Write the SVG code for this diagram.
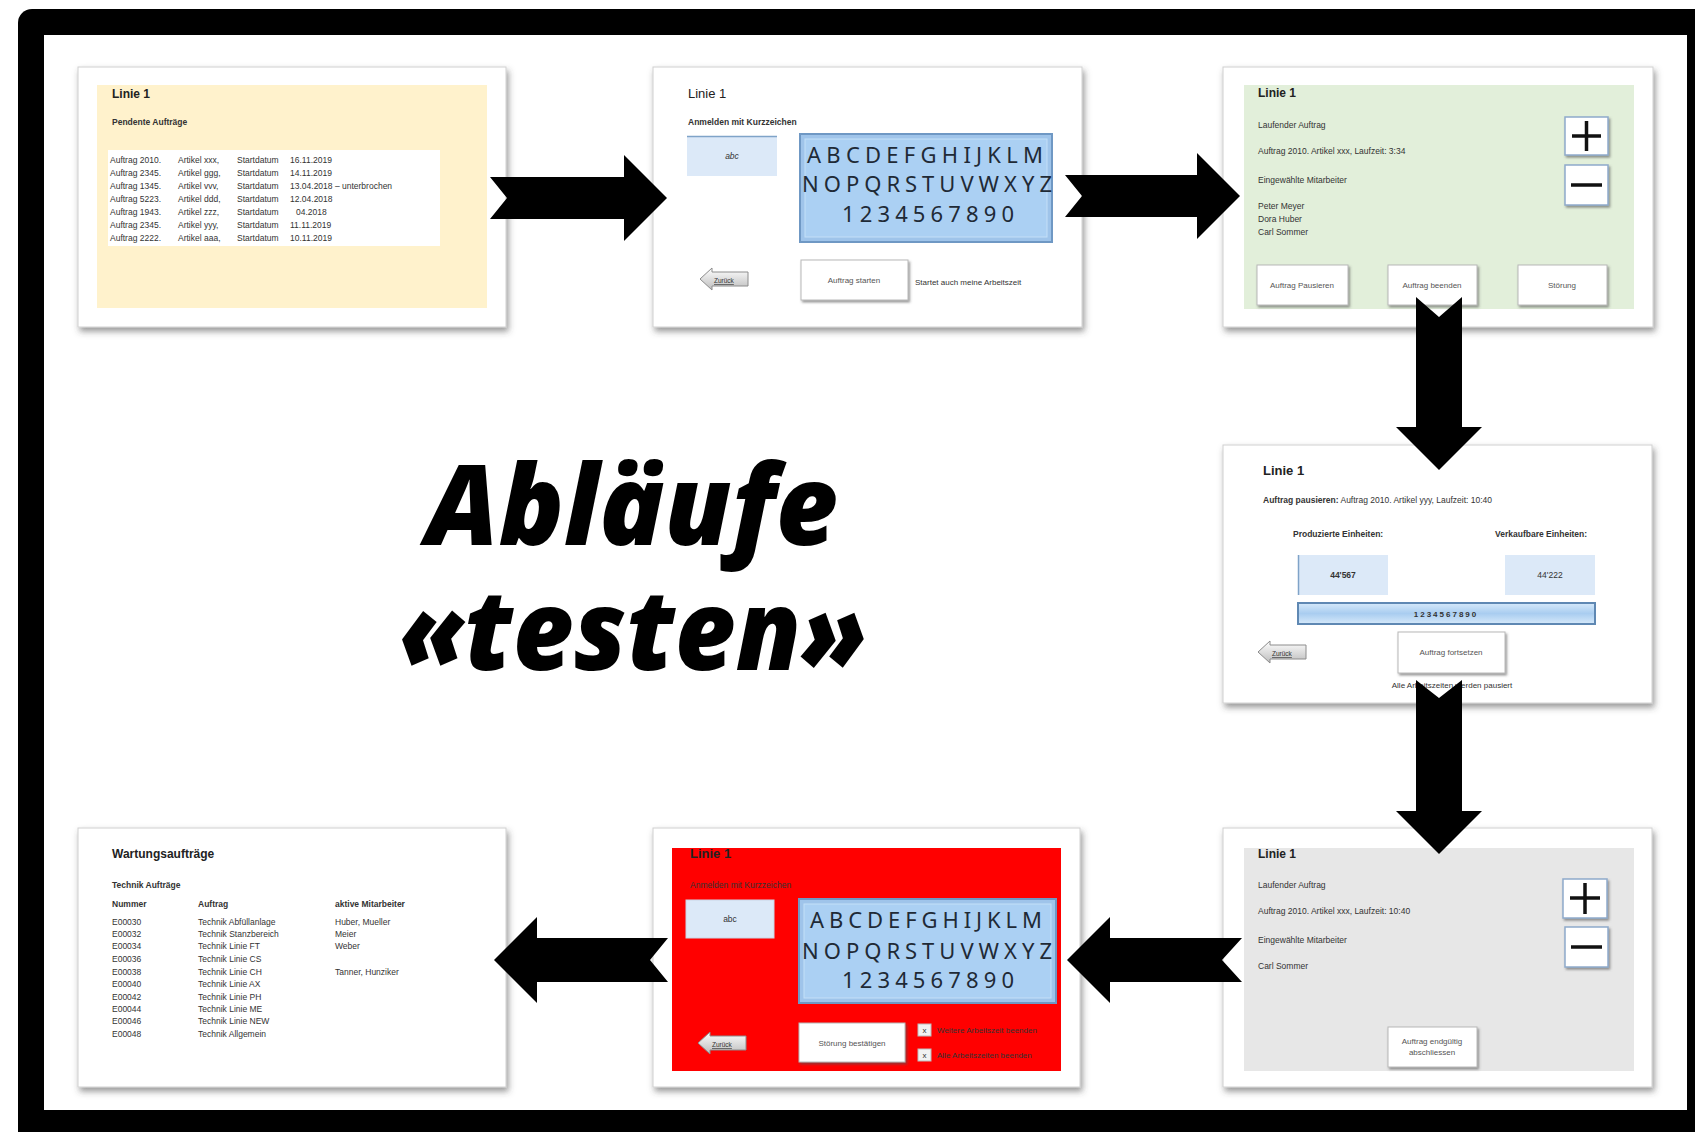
<svg xmlns="http://www.w3.org/2000/svg" width="1695" height="1132" viewBox="0 0 1695 1132">
<defs>
<filter id="sh" x="-5%" y="-5%" width="112%" height="118%"><feDropShadow dx="2" dy="4" stdDeviation="3" flood-color="#444" flood-opacity="0.55"/></filter>
<filter id="bs" x="-10%" y="-10%" width="125%" height="130%"><feDropShadow dx="1.5" dy="2" stdDeviation="1" flood-color="#555" flood-opacity="0.6"/></filter>
<linearGradient id="zg" x1="0" y1="0" x2="0" y2="1"><stop offset="0" stop-color="#ffffff"/><stop offset="1" stop-color="#bdbdbd"/></linearGradient>
<linearGradient id="bar" x1="0" y1="0" x2="0" y2="1"><stop offset="0" stop-color="#d6e9fa"/><stop offset="0.5" stop-color="#a9cdf0"/><stop offset="1" stop-color="#d6e9fa"/></linearGradient>
<path id="zur" d="M0,11 L12,0 L12,4 L48,4 L48,18 L12,18 L12,22 Z"/>
</defs>
<style>
.panel{fill:#fff;stroke:#d0d0d0;stroke-width:1;filter:url(#sh)}
.t{font-family:"Liberation Sans",Arial,sans-serif;fill:#333}
.h{font-size:12px;font-weight:bold;fill:#222}
.h2{font-size:13px;fill:#222}
.s{font-size:8.5px}
.sb{font-size:8.5px;font-weight:bold}
.btn{fill:#fff;stroke:#b8b8b8;stroke-width:1;filter:url(#bs)}
.bt{font-size:8px;text-anchor:middle;fill:#555}
.kb{fill:#9fc4ea;stroke:#6f98c4;stroke-width:2}
.kbi{fill:#abd0f3;stroke:#c4dff7;stroke-width:1}
.kt{font-family:"Noto Sans","Open Sans",sans-serif;font-size:22px;fill:#1f2a36;text-anchor:middle}
.lb{fill:#dce9f8}
.zur{fill:url(#zg);stroke:#8c8c8c;stroke-width:1}
.zt{font-family:"Liberation Sans",Arial,sans-serif;font-size:6.5px;fill:#333;text-decoration:underline}
.pm{fill:#fff;stroke:#8faacb;stroke-width:1.5;filter:url(#bs)}
.pl{stroke:#111;stroke-width:3.5}
.arr{fill:#000}
.title{font-family:"Open Sans","Noto Sans",sans-serif;font-weight:800;font-style:italic;font-size:112px;fill:#000;text-anchor:middle}
</style>
<rect x="0" y="0" width="1695" height="1132" fill="#fff"/>
<g id="frame">
<rect x="18" y="9" width="1700" height="1150" rx="14" fill="#000"/>
<rect x="44" y="35" width="1643" height="1075" fill="#fff"/>
</g>

<g id="title">
<text class="title"><tspan x="632" y="545" textLength="412" lengthAdjust="spacingAndGlyphs">Abläufe</tspan><tspan x="633" y="670" textLength="468" lengthAdjust="spacingAndGlyphs">«testen»</tspan></text>
</g>

<g id="panel1">
<rect class="panel" x="78" y="67" width="428" height="260"/>
<rect x="97" y="85" width="390" height="223" fill="#fff2cc"/>
<rect x="108" y="150" width="332" height="96" fill="#fff"/>
<text class="t h" x="112" y="98">Linie 1</text>
<text class="t sb" x="112" y="125">Pendente Aufträge</text>
<g class="t s">
<text x="110" y="163">Auftrag 2010.<tspan x="178">Artikel xxx,</tspan><tspan x="237">Startdatum</tspan><tspan x="290">16.11.2019</tspan></text>
<text x="110" y="176">Auftrag 2345.<tspan x="178">Artikel ggg,</tspan><tspan x="237">Startdatum</tspan><tspan x="290">14.11.2019</tspan></text>
<text x="110" y="189">Auftrag 1345.<tspan x="178">Artikel vvv,</tspan><tspan x="237">Startdatum</tspan><tspan x="290">13.04.2018 – unterbrochen</tspan></text>
<text x="110" y="202">Auftrag 5223.<tspan x="178">Artikel ddd,</tspan><tspan x="237">Startdatum</tspan><tspan x="290">12.04.2018</tspan></text>
<text x="110" y="215">Auftrag 1943.<tspan x="178">Artikel zzz,</tspan><tspan x="237">Startdatum</tspan><tspan x="296">04.2018</tspan></text>
<text x="110" y="228">Auftrag 2345.<tspan x="178">Artikel yyy,</tspan><tspan x="237">Startdatum</tspan><tspan x="290">11.11.2019</tspan></text>
<text x="110" y="241">Auftrag 2222.<tspan x="178">Artikel aaa,</tspan><tspan x="237">Startdatum</tspan><tspan x="290">10.11.2019</tspan></text>
</g>
</g>

<g id="panel2">
<rect class="panel" x="653" y="67" width="429" height="260"/>
<text class="t h2" x="688" y="98">Linie 1</text>
<text class="t sb" x="688" y="125">Anmelden mit Kurzzeichen</text>
<rect class="lb" x="687" y="136" width="90" height="40"/>
<line x1="687" y1="136.5" x2="777" y2="136.5" stroke="#7fa3c8" stroke-width="1.5"/>
<text class="t s" x="732" y="159" text-anchor="middle" font-style="italic" fill="#666">abc</text>
<rect class="kb" x="800" y="134" width="252" height="108"/>
<rect class="kbi" x="805" y="139" width="242" height="98"/>
<text class="kt" x="925" y="163" textLength="236" lengthAdjust="spacing">ABCDEFGHIJKLM</text>
<text class="kt" x="927" y="192" textLength="250" lengthAdjust="spacing">NOPQRSTUVWXYZ</text>
<text class="kt" x="928" y="222" textLength="172" lengthAdjust="spacing">1234567890</text>
<use href="#zur" class="zur" x="700" y="268"/>
<text class="zt" x="714" y="283">Zurück</text>
<rect class="btn" x="801" y="260" width="107" height="40"/>
<text class="t bt" x="854" y="283">Auftrag starten</text>
<text class="t" font-size="8px" x="915" y="285">Startet auch meine Arbeitszeit</text>
</g>

<g id="panel3">
<rect class="panel" x="1223" y="67" width="430" height="260"/>
<rect x="1244" y="85" width="390" height="224" fill="#e2efda"/>
<text class="t h" x="1258" y="97">Linie 1</text>
<text class="t s" x="1258" y="128">Laufender Auftrag</text>
<text class="t s" x="1258" y="154">Auftrag 2010.  Artikel xxx,  Laufzeit: 3:34</text>
<text class="t s" x="1258" y="183">Eingewählte Mitarbeiter</text>
<text class="t s" x="1258" y="209">Peter Meyer</text>
<text class="t s" x="1258" y="222">Dora Huber</text>
<text class="t s" x="1258" y="235">Carl Sommer</text>
<rect class="pm" x="1565" y="117" width="43" height="38"/>
<line class="pl" x1="1572" y1="136" x2="1601" y2="136"/>
<line class="pl" x1="1586.5" y1="121" x2="1586.5" y2="151"/>
<rect class="pm" x="1565" y="165" width="43" height="40"/>
<line class="pl" x1="1571" y1="185" x2="1602" y2="185"/>
<rect class="btn" x="1257" y="265" width="91" height="40"/>
<text class="t bt" x="1302" y="288">Auftrag Pausieren</text>
<rect class="btn" x="1388" y="265" width="89" height="40"/>
<text class="t bt" x="1432" y="288">Auftrag beenden</text>
<rect class="btn" x="1518" y="265" width="89" height="40"/>
<text class="t bt" x="1562" y="288">Störung</text>
</g>

<g id="panel4">
<rect class="panel" x="1223" y="445" width="429" height="258"/>
<text class="t h2" x="1263" y="475" font-weight="bold">Linie 1</text>
<text class="t s" x="1263" y="503"><tspan font-weight="bold">Auftrag pausieren:</tspan> Auftrag 2010.   Artikel yyy,   Laufzeit: 10:40</text>
<text class="t sb" x="1293" y="537">Produzierte Einheiten:</text>
<text class="t sb" x="1495" y="537">Verkaufbare Einheiten:</text>
<rect class="lb" x="1298" y="555" width="90" height="40"/>
<line x1="1298.5" y1="555" x2="1298.5" y2="595" stroke="#7fa3c8" stroke-width="1.5"/>
<text class="t sb" x="1343" y="578" text-anchor="middle">44'567</text>
<rect class="lb" x="1505" y="555" width="90" height="40"/>
<text class="t s" x="1550" y="578" text-anchor="middle">44'222</text>
<rect x="1298" y="603" width="297" height="21" fill="url(#bar)" stroke="#5f88b3" stroke-width="2"/>
<text class="t" font-size="8px" font-weight="bold" letter-spacing="2" x="1446" y="617" text-anchor="middle">1234567890</text>
<use href="#zur" class="zur" x="1258" y="641"/>
<text class="zt" x="1272" y="656">Zurück</text>
<rect class="btn" x="1398" y="632" width="107" height="41"/>
<text class="t bt" x="1451" y="655">Auftrag fortsetzen</text>
<text class="t" font-size="8px" x="1452" y="688" text-anchor="middle">Alle Arbeitszeiten werden pausiert</text>
</g>

<g id="panel5">
<rect class="panel" x="1223" y="828" width="429" height="259"/>
<rect x="1244" y="848" width="390" height="223" fill="#e7e7e7"/>
<text class="t h" x="1258" y="858">Linie 1</text>
<text class="t s" x="1258" y="888">Laufender Auftrag</text>
<text class="t s" x="1258" y="914">Auftrag 2010.  Artikel xxx,  Laufzeit: 10:40</text>
<text class="t s" x="1258" y="943">Eingewählte Mitarbeiter</text>
<text class="t s" x="1258" y="969">Carl Sommer</text>
<rect class="pm" x="1563" y="879" width="44" height="39"/>
<line class="pl" x1="1570" y1="898" x2="1600" y2="898"/>
<line class="pl" x1="1585" y1="883" x2="1585" y2="914"/>
<rect class="pm" x="1565" y="927" width="43" height="40"/>
<line class="pl" x1="1571" y1="947" x2="1602" y2="947"/>
<rect class="btn" x="1388" y="1027" width="89" height="40"/>
<text class="t bt" x="1432" y="1044">Auftrag endgültig</text>
<text class="t bt" x="1432" y="1055">abschliessen</text>
</g>

<g id="panel6">
<rect class="panel" x="653" y="828" width="427" height="259"/>
<rect x="672" y="848" width="389" height="223" fill="#ff0000"/>
<text class="t h2" x="690" y="858" font-weight="bold" fill="#111">Linie 1</text>
<text class="t s" x="690" y="888" fill="#111">Anmelden mit Kurzzeichen</text>
<rect class="lb" x="686" y="900" width="88" height="38" stroke="#c9d6e6"/>
<text class="t s" x="730" y="922" text-anchor="middle" fill="#666">abc</text>
<rect class="kb" x="799" y="899" width="257" height="104"/>
<rect class="kbi" x="804" y="904" width="247" height="94"/>
<text class="kt" x="926" y="928" textLength="232" lengthAdjust="spacing">ABCDEFGHIJKLM</text>
<text class="kt" x="927" y="959" textLength="250" lengthAdjust="spacing">NOPQRSTUVWXYZ</text>
<text class="kt" x="928" y="988" textLength="172" lengthAdjust="spacing">1234567890</text>
<use href="#zur" class="zur" x="698" y="1032"/>
<text class="zt" x="712" y="1047" fill="#222">Zurück</text>
<rect class="btn" x="799" y="1023" width="106" height="39"/>
<text class="t bt" x="852" y="1046" fill="#333">Störung bestätigen</text>
<rect x="918" y="1024" width="13" height="12" fill="#f2f2f2" stroke="#bbb"/>
<text class="t" font-size="8px" x="924.5" y="1033" text-anchor="middle" fill="#888">x</text>
<text class="t" font-size="8px" x="937" y="1033" fill="#8b0000">Weitere Arbeitszeit beenden</text>
<rect x="918" y="1049" width="13" height="12" fill="#f2f2f2" stroke="#bbb"/>
<text class="t" font-size="8px" x="924.5" y="1058" text-anchor="middle" fill="#888">x</text>
<text class="t" font-size="8px" x="937" y="1058" fill="#8b0000">Alle Arbeitszeiten beenden</text>
</g>

<g id="panel7">
<rect class="panel" x="78" y="828" width="428" height="259"/>
<text class="t h" x="112" y="858">Wartungsaufträge</text>
<text class="t sb" x="112" y="888">Technik Aufträge</text>
<g class="t s">
<text x="112" y="907" font-weight="bold">Nummer<tspan x="198">Auftrag</tspan><tspan x="335">aktive Mitarbeiter</tspan></text>
<text x="112" y="925">E00030<tspan x="198">Technik Abfüllanlage</tspan><tspan x="335">Huber, Mueller</tspan></text>
<text x="112" y="937">E00032<tspan x="198">Technik Stanzbereich</tspan><tspan x="335">Meier</tspan></text>
<text x="112" y="949">E00034<tspan x="198">Technik Linie FT</tspan><tspan x="335">Weber</tspan></text>
<text x="112" y="962">E00036<tspan x="198">Technik Linie CS</tspan></text>
<text x="112" y="975">E00038<tspan x="198">Technik Linie CH</tspan><tspan x="335">Tanner, Hunziker</tspan></text>
<text x="112" y="987">E00040<tspan x="198">Technik Linie AX</tspan></text>
<text x="112" y="1000">E00042<tspan x="198">Technik Linie PH</tspan></text>
<text x="112" y="1012">E00044<tspan x="198">Technik Linie ME</tspan></text>
<text x="112" y="1024">E00046<tspan x="198">Technik Linie NEW</tspan></text>
<text x="112" y="1037">E00048<tspan x="198">Technik Allgemein</tspan></text>
</g>
</g>

<g id="connectors">
<polygon class="arr" points="490,177 624,177 624,155 667,198 624,241 624,219 490,219 507,198"/>
<polygon class="arr" points="1065,175 1197,175 1197,153 1240,196 1197,239 1197,217 1065,217 1082,196"/>
<polygon class="arr" points="1416,297 1416,427 1396,427 1439,470 1482,427 1462,427 1462,297 1439,317"/>
<polygon class="arr" points="1416,680 1416,811 1396,811 1439,854 1482,811 1462,811 1462,680 1439,698"/>
<polygon class="arr" points="1242,938 1110,938 1110,917 1067,960 1110,1003 1110,982 1242,982 1222,960"/>
<polygon class="arr" points="668,938 537,938 537,917 494,960 537,1003 537,982 668,982 650,960"/>
</g>
</svg>
